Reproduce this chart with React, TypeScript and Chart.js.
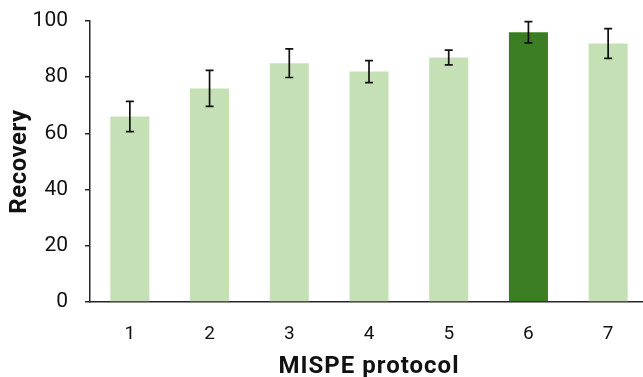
import React, { useEffect, useRef } from "react";
import { Chart, registerables } from "chart.js";

Chart.register(...registerables);

const categories = ["1", "2", "3", "4", "5", "6", "7"];
const recovery = [66, 76, 85, 82, 87, 96, 92];
const errorUp = [5.4, 6.4, 5.1, 3.9, 2.6, 3.8, 5.3];
const errorDown = [5.4, 6.4, 5.1, 3.9, 2.6, 3.8, 5.3];
const highlightIndex = 5;
const yTicks = [0, 20, 40, 60, 80, 100];
const xTitle = "MISPE protocol";
const yTitle = "Recovery";

const LIGHT = "#C5E0B4";
const DARK = "#3B7D23";
const AXIS = "#262626";

const errorBarPlugin = {
  id: "errorBars",
  afterDatasetsDraw(chart: any) {
    const ctx = chart.ctx;
    const xs = chart.scales.x;
    const ys = chart.scales.y;
    ctx.save();
    ctx.strokeStyle = "#111111";
    ctx.lineWidth = 1.7;
    recovery.forEach((v, i) => {
      const x = xs.getPixelForValue(i);
      const top = ys.getPixelForValue(v + errorUp[i]);
      const bot = ys.getPixelForValue(v - errorDown[i]);
      const cap = 4;
      ctx.beginPath();
      ctx.moveTo(x, top);
      ctx.lineTo(x, bot);
      ctx.moveTo(x - cap, top);
      ctx.lineTo(x + cap, top);
      ctx.moveTo(x - cap, bot);
      ctx.lineTo(x + cap, bot);
      ctx.stroke();
    });
    ctx.restore();
  },
};

const titlePlugin = {
  id: "axisTitles",
  afterDraw(chart: any) {
    const ctx = chart.ctx;
    const area = chart.chartArea;
    ctx.save();
    ctx.fillStyle = "#111111";
    ctx.font = "bold 24px Roboto, 'Liberation Sans', sans-serif";
    ctx.textAlign = "center";
    ctx.textBaseline = "middle";
    (ctx as any).letterSpacing = "1px";
    ctx.fillText(xTitle, (area.left + area.right) / 2, 367);
    (ctx as any).letterSpacing = "0.5px";
    ctx.translate(20, (area.top + area.bottom) / 2);
    ctx.rotate(-Math.PI / 2);
    ctx.fillText(yTitle, 0, 0);
    ctx.restore();
  },
};

export default function App() {
  const ref = useRef<HTMLCanvasElement | null>(null);
  useEffect(() => {
    document.body.style.overflow = "hidden";
    const chart = new Chart(ref.current as HTMLCanvasElement, {
      type: "bar",
      data: {
        labels: categories,
        datasets: [
          {
            data: recovery,
            backgroundColor: recovery.map((_, i) => (i === highlightIndex ? DARK : LIGHT)),
            borderWidth: 0,
            barPercentage: 0.49,
            categoryPercentage: 1,
          },
        ],
      },
      options: {
        animation: false,
        responsive: false,
        maintainAspectRatio: false,
        layout: { padding: { top: 21, right: 2, left: 0, bottom: 0 } },
        plugins: { legend: { display: false }, tooltip: { enabled: false } },
        scales: {
          x: {
            grid: { display: false, drawTicks: false },
            border: { display: true, color: AXIS, width: 1.5 },
            ticks: {
              color: "#111111",
              font: { family: "Roboto, 'Liberation Sans', sans-serif", size: 19 },
              padding: 21,
            },
            afterFit(scale: any) {
              scale.height = 75;
            },
          },
          y: {
            min: 0,
            max: 100,
            afterBuildTicks(scale: any) {
              scale.ticks = yTicks.map((v) => ({ value: v }));
            },
            grid: {
              display: true,
              drawOnChartArea: false,
              drawTicks: true,
              tickLength: 5,
              color: AXIS,
              lineWidth: 1.5,
            },
            border: { display: true, color: AXIS, width: 1.5 },
            ticks: {
              color: "#111111",
              font: { family: "Roboto, 'Liberation Sans', sans-serif", size: 21 },
              padding: 17,
            },
            afterFit(scale: any) {
              scale.width = 90;
              scale.paddingTop = 0;
              scale.paddingBottom = 0;
            },
          },
        },
      },
      plugins: [errorBarPlugin, titlePlugin],
    });
    return () => chart.destroy();
  }, []);
  return (
    <div style={{ position: "fixed", left: 0, top: 0, width: 650, height: 377 }}>
      <canvas ref={ref} width={650} height={377} style={{ width: 650, height: 377 }} />
    </div>
  );
}
